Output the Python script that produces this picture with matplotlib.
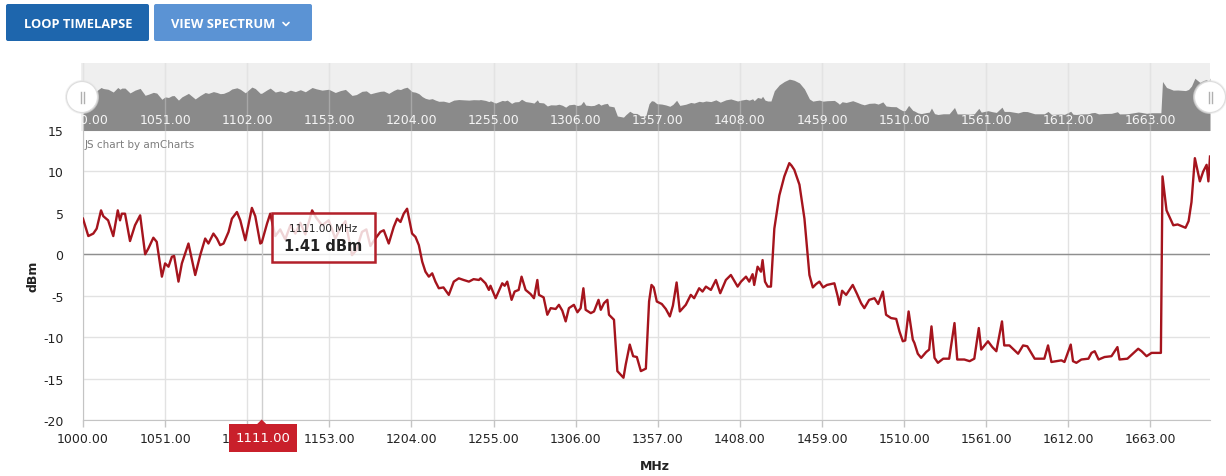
import matplotlib
matplotlib.use("Agg")
import matplotlib.pyplot as plt
from matplotlib.patches import Rectangle, FancyBboxPatch, Circle, Polygon
from matplotlib.transforms import blended_transform_factory

# ---- spectrum sweep (MHz, dBm) ----
freq_mhz = [
    1000.0, 1003.3, 1006.4, 1008.5, 1011.2, 1012.6, 1015.6, 1018.8, 1021.6, 1023.0,
    1024.1, 1026.1, 1029.2, 1032.3, 1035.5, 1038.6, 1040.6, 1043.7, 1045.8, 1049.0,
    1051.0, 1053.1, 1055.2, 1056.6, 1059.3, 1061.4, 1065.5, 1069.7, 1072.8, 1075.9,
    1077.9, 1081.0, 1083.2, 1085.2, 1087.3, 1090.4, 1092.5, 1095.6, 1097.7, 1100.8,
    1104.9, 1107.0, 1110.1, 1111.0, 1114.3, 1116.3, 1119.4, 1122.5, 1125.6, 1128.8,
    1131.9, 1135.0, 1138.1, 1142.3, 1144.9, 1148.5, 1152.6, 1156.7, 1159.9, 1163.0,
    1167.1, 1169.8, 1173.3, 1176.0, 1178.5, 1181.6, 1184.7, 1186.8, 1189.9, 1193.0,
    1195.1, 1197.2, 1199.2, 1201.3, 1204.4, 1206.5, 1208.6, 1210.7, 1212.7, 1214.8,
    1216.9, 1218.9, 1221.0, 1223.9, 1227.2, 1230.3, 1233.4, 1236.4, 1239.7, 1242.6,
    1245.9, 1246.9, 1250.0, 1252.1, 1253.1, 1256.3, 1260.4, 1261.9, 1263.5, 1266.2,
    1268.1, 1270.6, 1272.4, 1274.9, 1278.0, 1280.1, 1282.2, 1283.2, 1286.1, 1288.4,
    1290.5, 1293.6, 1295.6, 1297.7, 1299.8, 1301.8, 1304.9, 1307.1, 1309.1, 1310.8,
    1312.2, 1315.4, 1317.4, 1320.2, 1321.6, 1323.6, 1325.7, 1326.7, 1329.8, 1331.9,
    1335.7, 1337.1, 1339.6, 1341.7, 1344.0, 1346.5, 1349.6, 1351.6, 1353.1, 1354.5,
    1356.4, 1359.5, 1362.0, 1364.5, 1366.4, 1368.7, 1370.7, 1374.4, 1377.5, 1379.6,
    1382.7, 1384.8, 1386.9, 1390.0, 1393.1, 1395.8, 1399.3, 1402.4, 1406.6, 1408.7,
    1411.8, 1413.8, 1415.9, 1416.9, 1419.0, 1421.1, 1422.1, 1423.6, 1425.3, 1427.3,
    1429.4, 1432.5, 1435.6, 1438.7, 1440.1, 1441.8, 1445.0, 1448.1, 1451.2, 1453.3,
    1455.3, 1457.4, 1459.7, 1462.1, 1466.7, 1468.8, 1469.8, 1471.5, 1474.0, 1478.1,
    1480.8, 1483.3, 1485.3, 1488.3, 1491.6, 1493.9, 1496.8, 1498.8, 1501.9, 1505.1,
    1507.1, 1509.2, 1510.7, 1512.8, 1515.4, 1516.4, 1518.5, 1520.6, 1523.7, 1525.6,
    1527.0, 1528.9, 1531.0, 1534.3, 1538.0, 1541.3, 1543.0, 1547.4, 1550.7, 1553.6,
    1556.4, 1557.9, 1562.1, 1564.8, 1567.3, 1570.8, 1572.2, 1575.4, 1580.8, 1583.9,
    1586.5, 1591.1, 1597.1, 1599.4, 1601.5, 1607.7, 1609.6, 1613.5, 1614.9, 1617.0,
    1620.1, 1624.5, 1626.4, 1628.4, 1630.8, 1634.5, 1638.8, 1642.5, 1643.8, 1648.7,
    1655.4, 1657.5, 1660.6, 1663.7, 1669.5, 1670.5, 1673.0, 1674.9, 1677.2, 1679.9,
    1682.4, 1684.8, 1686.7, 1688.5, 1690.6, 1693.7, 1695.8, 1697.9, 1699.0, 1700.0,
]
level_dbm = [
    4.3, 2.2, 2.5, 3.1, 5.3, 4.6, 4.1, 2.2, 5.3, 4.1,
    4.9, 4.9, 1.6, 3.5, 4.7, 0.0, 0.7, 2.0, 1.5, -2.7,
    -1.1, -1.5, -0.3, -0.2, -3.3, -1.1, 1.3, -2.5, -0.1, 1.9,
    1.3, 2.5, 1.9, 1.1, 1.3, 2.7, 4.3, 5.1, 4.1, 1.7,
    5.6, 4.6, 1.3, 1.41, 3.7, 4.9, 2.2, 3.0, 1.8, 3.5,
    2.5, 3.8, 2.4, 5.3, 4.4, 3.5, 4.1, 1.9, 3.2, 4.0,
    -0.1, 0.5, 2.7, 3.0, 1.0, 1.9, 2.7, 2.9, 1.3, 3.3,
    4.3, 3.9, 4.9, 5.5, 2.5, 2.1, 1.1, -0.9, -2.1, -2.7,
    -2.3, -3.3, -4.1, -4.0, -4.9, -3.3, -2.9, -3.1, -3.3, -3.0,
    -3.1, -2.9, -3.5, -4.3, -3.8, -5.3, -3.5, -3.8, -3.3, -5.5,
    -4.5, -4.3, -2.7, -4.3, -4.8, -5.3, -3.1, -4.9, -5.2, -7.3,
    -6.5, -6.6, -6.1, -6.8, -8.1, -6.5, -6.1, -7.0, -6.5, -4.1,
    -6.7, -7.1, -6.9, -5.5, -6.7, -5.9, -5.5, -7.3, -7.9, -14.1,
    -14.9, -13.3, -10.9, -12.3, -12.4, -14.1, -13.8, -5.7, -3.7, -4.0,
    -5.7, -6.0, -6.6, -7.5, -6.2, -3.4, -6.9, -6.1, -4.9, -5.3,
    -4.1, -4.5, -3.9, -4.3, -3.1, -4.7, -3.1, -2.5, -3.9, -3.3,
    -2.7, -3.3, -2.4, -3.7, -1.5, -2.1, -0.7, -3.3, -3.9, -3.9,
    3.1, 7.1, 9.4, 11.0, 10.7, 10.2, 8.4, 4.3, -2.5, -4.0,
    -3.6, -3.3, -4.0, -3.7, -3.5, -5.1, -6.1, -4.4, -4.9, -3.7,
    -4.8, -5.9, -6.5, -5.5, -5.3, -6.0, -4.5, -7.3, -7.7, -7.8,
    -9.3, -10.5, -10.4, -6.9, -10.3, -10.7, -12.0, -12.5, -11.8, -11.5,
    -8.7, -12.5, -13.1, -12.6, -12.6, -8.3, -12.7, -12.7, -12.9, -12.6,
    -8.9, -11.5, -10.5, -11.2, -11.7, -8.1, -11.0, -11.0, -12.0, -11.0,
    -11.1, -12.6, -12.6, -11.0, -13.0, -12.8, -13.0, -10.9, -12.9, -13.1,
    -12.7, -12.6, -11.9, -11.7, -12.7, -12.4, -12.3, -11.2, -12.7, -12.6,
    -11.4, -11.7, -12.3, -11.9, -11.9, 9.4, 5.3, 4.5, 3.5, 3.6,
    3.4, 3.2, 4.0, 6.3, 11.6, 8.8, 10.0, 10.8, 8.8, 11.8,
]

x_ticks = [1000, 1051, 1102, 1153, 1204, 1255, 1306, 1357, 1408, 1459, 1510, 1561, 1612, 1663]
x_tick_labels = ["1000.00", "1051.00", "1102.00", "1153.00", "1204.00", "1255.00", "1306.00",
                 "1357.00", "1408.00", "1459.00", "1510.00", "1561.00", "1612.00", "1663.00"]
y_ticks = [-20, -15, -10, -5, 0, 5, 10, 15]
y_tick_labels = ["-20", "-15", "-10", "-5", "0", "5", "10", "15"]

cursor_mhz = 1111.0
cursor_dbm = 1.41

# ---- canvas geometry (pixels) ----
W, H = 1226, 477
PLOT_L, PLOT_R, PLOT_T, PLOT_B = 83, 1210, 131, 421
SCROLL_T, SCROLL_B = 64, 131.5
LINE_RED = "#a5141d"
TEXT_DARK = "#222222"

plt.rcParams["font.family"] = ["DejaVu Sans"]

fig = plt.figure(figsize=(W / 100, H / 100), dpi=100)
fig.patch.set_facecolor("white")


def frac_box(l, t, r, b):
    return [l / W, 1 - b / H, (r - l) / W, (b - t) / H]


# ---- main spectrum axes ----
ax = fig.add_axes(frac_box(PLOT_L, PLOT_T, PLOT_R, PLOT_B))
ax.set_xlim(1000, 1700)
ax.set_ylim(-20, 15)
ax.set_xticks(x_ticks, x_tick_labels)
ax.set_yticks(y_ticks, y_tick_labels)
ax.grid(True, color="#e2e2e2", lw=1.0, zorder=0)
ax.axhline(0, color="#8f8f8f", lw=1.0, zorder=1)
ax.axvline(cursor_mhz, color="#cfcfcf", lw=1.0, zorder=1)
ax.plot(freq_mhz, level_dbm, color=LINE_RED, lw=1.7, zorder=3, solid_joinstyle="round")
for side in ("top", "right"):
    ax.spines[side].set_visible(False)
for side in ("left", "bottom"):
    ax.spines[side].set_color("#c4c4c4")
ax.tick_params(axis="x", length=5, width=1, color="#c4c4c4", pad=4,
               labelsize=9, labelcolor=TEXT_DARK)
ax.tick_params(axis="y", length=0, pad=14, labelsize=9, labelcolor=TEXT_DARK)
ax.set_axisbelow(True)

# ---- overview scrollbar ----
sax = fig.add_axes(frac_box(PLOT_L - 2, SCROLL_T, PLOT_R, SCROLL_B))
sax.set_facecolor("#efefef")
x_pad = 2 * (1700 - 1000) / (PLOT_R - PLOT_L)
sax.set_xlim(1000 - x_pad, 1700)
sax.set_ylim(-24, 22)
for t in x_ticks:
    sax.axvline(t, color="#dadada", lw=1.0, zorder=0)
sax.fill_between(freq_mhz, level_dbm, -24, color="#8a8a8a", lw=0, zorder=1)
for t in x_ticks:
    sax.axvline(t, color="white", lw=1.0, alpha=0.25, zorder=2)
blend = blended_transform_factory(sax.transData, sax.transAxes)
for t, lab in zip(x_ticks, x_tick_labels):
    sax.text(t, 0.16, lab, transform=blend, ha="center", va="center",
             fontsize=9, color="#f5f5f5", clip_on=True, zorder=3)
sax.set_xticks([])
sax.set_yticks([])
for s in sax.spines.values():
    s.set_visible(False)

# ---- overlay in pixel coordinates (buttons, handles, balloon) ----
ov = fig.add_axes([0, 0, 1, 1])
ov.set_xlim(0, W)
ov.set_ylim(H, 0)
ov.axis("off")
ov.set_zorder(10)

# toolbar buttons
ov.add_patch(FancyBboxPatch((6, 5), 143, 37, boxstyle="round,pad=0,rounding_size=2",
                            fc="#1e66ad", ec="none"))
ov.text(78, 24, "LOOP TIMELAPSE", ha="center", va="center", color="white",
        fontsize=9.3, fontweight="bold", family=["Open Sans", "DejaVu Sans"])
ov.add_patch(FancyBboxPatch((154, 5), 158, 37, boxstyle="round,pad=0,rounding_size=2",
                            fc="#5b93d4", ec="none"))
ov.text(223.5, 24, "VIEW SPECTRUM", ha="center", va="center", color="white",
        fontsize=9.3, fontweight="bold", family=["Open Sans", "DejaVu Sans"])
ov.plot([283, 286, 289], [23.5, 26.5, 23.5], color="white", lw=1.2,
        solid_capstyle="round", solid_joinstyle="round")

# scrollbar drag handles
for hx in (82, 1210):
    ov.add_patch(Circle((hx, 98), 17, fc="#e6e6e6", ec="none", alpha=0.6))
    ov.add_patch(Circle((hx, 98), 15.5, fc="white", ec="#dddddd", lw=0.8))
    ov.plot([hx - 1.5, hx - 1.5], [93, 103.5], color="#b0b0b0", lw=1.0)
    ov.plot([hx + 1.5, hx + 1.5], [93, 103.5], color="#b0b0b0", lw=1.0)

# axis titles and credit
ov.text(33, (PLOT_T + PLOT_B) / 2, "dBm", rotation=90, ha="center", va="center",
        fontsize=9, fontweight="bold", color=TEXT_DARK)
ov.text((PLOT_L + PLOT_R) / 2 + 8, 467, "MHz", ha="center", va="center",
        fontsize=9, fontweight="bold", color=TEXT_DARK)
ov.text(PLOT_L + 2, PLOT_T + 14, "JS chart by amCharts", ha="left", va="center",
        fontsize=7.5, color="#7d7d7d")

# cursor balloon and category marker, placed from the data point
dx, dy = ax.transData.transform((cursor_mhz, cursor_dbm))
cx, cy = dx, H - dy
ov.add_patch(Rectangle((cx + 10, cy - 30), 103, 49, fc=(1, 1, 1, 0.82),
                       ec="#b3202a", lw=1.8))
ov.text(cx + 61.5, cy - 15, f"{cursor_mhz:.2f} MHz", ha="center", va="center",
        fontsize=7.5, color=TEXT_DARK)
ov.text(cx + 61.5, cy + 3, f"{cursor_dbm:.2f} dBm", ha="center", va="center",
        fontsize=10.5, fontweight="bold", color=TEXT_DARK)

ov.add_patch(Rectangle((cx - 33, PLOT_B + 4), 68, 28, fc="#c9202b", ec="none"))
ov.add_patch(Polygon([(cx - 5, PLOT_B + 4.5), (cx, PLOT_B - 0.5), (cx + 5, PLOT_B + 4.5)],
                     closed=True, fc="#c9202b", ec="none"))
ov.text(cx + 1, PLOT_B + 18, f"{cursor_mhz:.2f}", ha="center", va="center",
        fontsize=9.5, color="white")

fig.savefig("out.png", dpi=100)
